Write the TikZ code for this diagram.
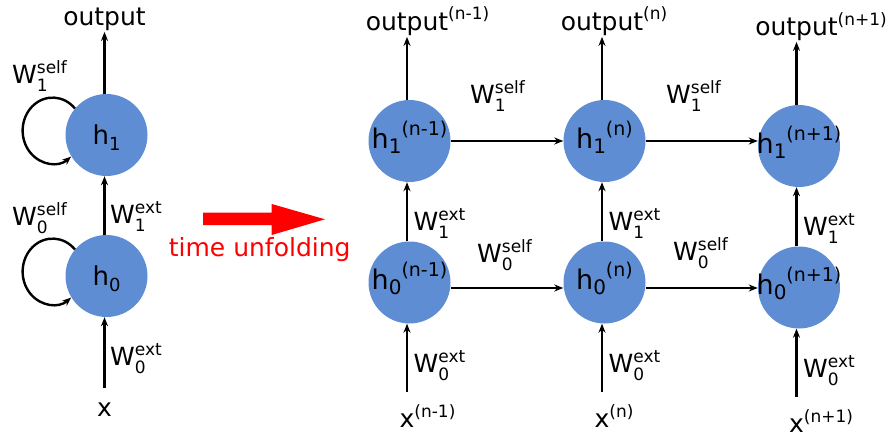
\documentclass[tikz,border=0pt]{standalone}
\usepackage{fontspec}
\setmainfont{DejaVu Sans}
\usetikzlibrary{arrows.meta}
\definecolor{nblue}{HTML}{5F8DD3}
\newcommand\fs[1]{\fontsize{#1}{#1}\selectfont}
\newcommand\Wlab[2]{W\rlap{\raisebox{-8pt}{\fs{17}#1}}\raisebox{10pt}{\fs{17}#2}}
\newcommand\Hright[2]{\makebox[0pt]{\fs{27}h\raisebox{-5pt}{\fs{20}#1}\raisebox{13pt}{\fs{19}#2}}}
\newcommand\Hleft[1]{\makebox[0pt]{\fs{26}h\raisebox{-6pt}{\fs{18}#1}}}
\newcommand\supr[1]{\rlap{\raisebox{10pt}{\fs{17}#1}}}
\begin{document}
\begin{tikzpicture}[x=1pt,y=1pt,
  neuron/.style={circle,fill=nblue,minimum size=82pt,inner sep=0pt,text=black},
  lbl/.style={inner sep=0pt,anchor=base west,font=\fs{25}},
  io/.style={inner sep=0pt,anchor=base,font=\fs{25}},
  arr/.style={line width=2.4pt,-{Stealth[length=9pt,width=7pt]}},
]
\useasboundingbox (0,0) rectangle (889,-439);
% ---- folded network (left)
\node[neuron,text height=24pt,text depth=6pt] (L1) at (106.5,-135) {\Hleft{1}};
\node[neuron,text height=24pt,text depth=6pt] (L0) at (106.5,-276) {\Hleft{0}};
\node[io] (Lout) at (104.5,-25) {output};
\node[io] (Lx) at (104.5,-416) {x};
\draw[arr] ([xshift=-2pt]L1.north) -- ([yshift=-1.5pt]Lout.south);
\draw[arr] ([xshift=-2pt]L0.north) -- ([xshift=-2pt]L1.south);
\draw[arr] ([yshift=14pt]Lx.north) -- ([xshift=-2pt]L0.south);
\draw[arr] (L1.140) arc[start angle=42,end angle=308,x radius=30,y radius=33];
\draw[arr] (L0.140) arc[start angle=42,end angle=308,x radius=30,y radius=33];
\node[lbl] (w1s) at (12,-83) {\Wlab{1}{self}};
\node[lbl] (w0s) at (12,-225) {\Wlab{0}{self}};
\node[lbl] (w1e) at (110,-223) {\Wlab{1}{ext}};
\node[lbl] (w0e) at (110,-365) {\Wlab{0}{ext}};
% ---- time unfolding arrow
\fill[red] (203,-212.7) -- (271.7,-212.7) -- (271.7,-204) -- (325,-219.3) -- (271.7,-235) -- (271.7,-225) -- (203,-225) -- cycle;
\node[io,text=red] (tu) at (259.7,-256.5) {time unfolding};
% ---- unfolded network
\foreach \n/\lx/\dy/\s in {a/407/0/n-1, b/602/0/n, c/796.5/5/n+1} {
  \node[neuron,text height=20pt,text depth=6pt] (h1\n) at (\lx+2.5,-141-\dy) {\Hright{1}{(\s)}};
  \node[neuron,text height=20pt,text depth=6pt] (h0\n) at (\lx+2.5,-282.5-\dy) {\Hright{0}{(\s)}};
  \node[io] (out\n) at (\lx,-30-\dy) {output\supr{(\s)}};
  \node[io] (x\n) at (\lx,-427-\dy) {x\supr{(\s)}};
  \node[lbl] (we1\n) at (\lx+6.5,-230-\dy) {\Wlab{1}{ext}};
  \node[lbl] (we0\n) at (\lx+6.5,-372-\dy) {\Wlab{0}{ext}};
  \draw[arr] ([xshift=-2.5pt]h1\n.north) -- ([yshift=-1.5pt]out\n.south);
  \draw[arr] ([xshift=-2.5pt]h0\n.north) -- ([xshift=-2.5pt]h1\n.south);
  \draw[arr] ([yshift=12pt]x\n.north) -- ([xshift=-2.5pt]h0\n.south);
}
\draw[arr] (h1a.east) -- (h1b.west);
\draw[arr] (h1b.east) -- (h1b.east -| h1c.west);
\draw[arr] ([yshift=-5.5pt]h0a.east) -- ([yshift=-5.5pt]h0b.west);
\draw[arr] ([yshift=-5.5pt]h0b.east) -- ([yshift=-5.5pt]h0b.east -| h0c.west);
\node[lbl] (ws1ab) at (470,-103) {\Wlab{1}{self}};
\node[lbl] (ws1bc) at (666,-103) {\Wlab{1}{self}};
\node[lbl] (ws0ab) at (477,-262) {\Wlab{0}{self}};
\node[lbl] (ws0bc) at (673,-260) {\Wlab{0}{self}};
\end{tikzpicture}
\end{document}
